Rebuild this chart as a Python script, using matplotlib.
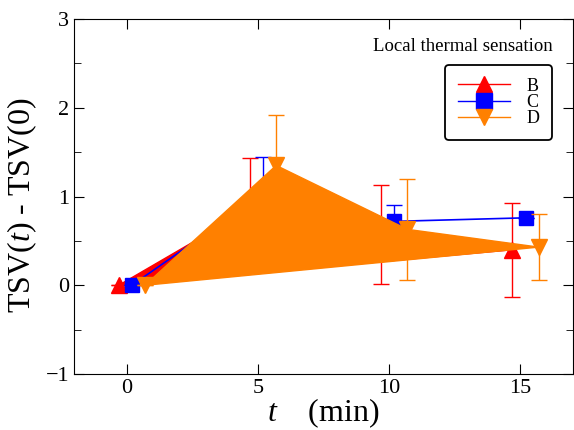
import numpy as np
import matplotlib
matplotlib.use('Agg')
import matplotlib.pyplot as plt
from matplotlib.lines import Line2D
from matplotlib.ticker import MultipleLocator

plt.rcParams['font.family'] = 'Liberation Serif'
plt.rcParams['mathtext.fontset'] = 'custom'
plt.rcParams['mathtext.rm'] = 'Liberation Serif'
plt.rcParams['mathtext.it'] = 'Liberation Serif:italic'

# data (time shifted slightly per series)
t_b = [-0.3, 4.7, 9.7, 14.7]
y_b = [0.0, 0.86, 0.57, 0.40]
e_b = [0.0, 0.57, 0.56, 0.53]

t_c = [0.2, 5.2, 10.2, 15.2]
y_c = [0.0, 1.03, 0.72, 0.76]
e_c = [0.0, 0.41, 0.18, 0.0]

t_d = [0.7, 5.7, 10.7, 15.7]
y_d = [0.0, 1.35, 0.63, 0.43]
e_d = [0.0, 0.57, 0.57, 0.37]

red = '#ff0000'
blue = '#0000ff'
orange = '#ff8000'

fig = plt.figure(figsize=(5.74, 4.3), dpi=100)
ax = fig.add_axes([0.129, 0.130, 0.869, 0.826])

# B: filled polygon with markers and error bars
ax.fill(t_b, y_b, color=red, zorder=1)
ax.errorbar(t_b, y_b, yerr=e_b, fmt='^', color=red, ms=11, elinewidth=1,
            capsize=6, zorder=1)
# C: line with markers
ax.errorbar(t_c, y_c, yerr=e_c, fmt='s-', color=blue, ms=10, lw=1.2,
            elinewidth=1, capsize=6, zorder=2)
# D: error bars and markers, then the filled polygon above everything
ax.errorbar(t_d, y_d, yerr=e_d, fmt='v', color=orange, ms=11, elinewidth=1,
            capsize=6, zorder=3)
ax.fill(t_d, y_d, color=orange, zorder=4)

ax.set_xlim(-2, 17)
ax.set_ylim(-1, 3)
ax.xaxis.set_major_locator(MultipleLocator(5))
ax.yaxis.set_major_locator(MultipleLocator(1))
ax.yaxis.set_minor_locator(MultipleLocator(0.5))
ax.tick_params(which='both', direction='in', top=True, right=True, labelsize=16)
ax.tick_params(which='major', length=7)
ax.tick_params(which='minor', length=5)

ax.set_xlabel(r'$t$    (min)', fontsize=23, labelpad=-1)
ax.set_ylabel(r'TSV($t$) - TSV(0)', fontsize=23)
ax.yaxis.set_label_coords(-0.07, 0.475)

handles = [
    Line2D([], [], color=red, marker='^', ms=12, lw=1),
    Line2D([], [], color=blue, marker='s', ms=11, lw=1),
    Line2D([], [], color=orange, marker='v', ms=12, lw=1),
]
leg = ax.legend(handles, ['B', 'C', 'D'], loc='upper right',
                bbox_to_anchor=(0.958, 0.870), fontsize=13,
                handlelength=2.9, labelspacing=-0.05, handletextpad=0.9,
                borderpad=0.7, borderaxespad=0, fancybox=True, framealpha=1,
                edgecolor='black')
leg.get_frame().set_linewidth(1.3)
ax.text(0.960, 0.899, 'Local thermal sensation', transform=ax.transAxes,
        ha='right', va='bottom', fontsize=13.5)

fig.savefig('out.png', dpi=100)
